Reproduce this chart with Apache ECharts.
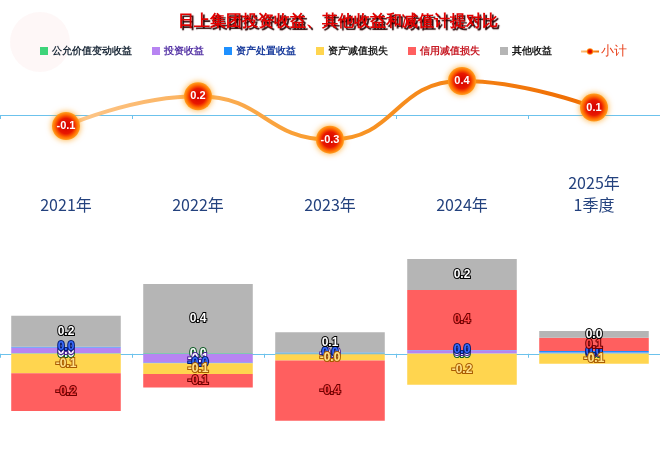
<!DOCTYPE html>
<html>
<head>
<meta charset="utf-8">
<script src="https://cdn.jsdelivr.net/npm/echarts@6/dist/echarts.min.js"></script>
<style>
  html, body { margin: 0; padding: 0; background: #fff; }
  #chart { width: 660px; height: 452px; }
</style>
</head>
<body>
<div id="chart"></div>
<script>
const categories = ['2021年', '2022年', '2023年', '2024年', '2025年\n1季度'];

// 单位：亿元（图上读数）
const fairValue = [0.004, 0.005, 0.003, 0.002, 0.003];     // 公允价值变动收益
const investIncome = [0.036, -0.058, -0.004, 0.02, 0.005];  // 投资收益
const assetDisposal = [0.005, -0.003, 0.005, 0.003, 0.01];  // 资产处置收益
const assetImpair = [-0.125, -0.069, -0.039, -0.2, -0.065]; // 资产减值损失
const creditImpair = [-0.245, -0.088, -0.39, 0.387, 0.086]; // 信用减值损失
const otherIncome = [0.2, 0.445, 0.13, 0.2, 0.043];         // 其他收益
const subtotal = [-0.13, 0.22, -0.29, 0.40, 0.087];         // 小计

const barDefs = [
  { name: '公允价值变动收益', data: fairValue, color: '#3ed47a', text: '#1d2b3a', lab: '#ffffff', border: '#0b5a22' },
  { name: '投资收益', data: investIncome, color: '#b784f2', text: '#5a3aa8', lab: '#ffffff', border: '#4a1e98' },
  { name: '资产处置收益', data: assetDisposal, color: '#1e90ff', text: '#1a3c9c', lab: '#3a6cff', border: '#001a70' },
  { name: '资产减值损失', data: assetImpair, color: '#ffd54f', text: '#1d1d1d', lab: '#ffe38a', border: '#a85a00' },
  { name: '信用减值损失', data: creditImpair, color: '#ff5f5f', text: '#c81e28', lab: '#ff4a4a', border: '#6e0000' },
  { name: '其他收益', data: otherIncome, color: '#b5b5b5', text: '#1d1d1d', lab: '#ffffff', border: '#000000' }
];

const chart = echarts.init(document.getElementById('chart'));

const axisLineColor = '#6cc2ec';

const barSeries = barDefs.map(d => ({
  name: d.name,
  type: 'bar',
  stack: 'total',
  xAxisIndex: 1,
  yAxisIndex: 1,
  barWidth: '83%',
  data: d.data,
  itemStyle: { color: d.color },
  label: {
    show: true,
    position: 'inside',
    formatter: p => p.value.toFixed(1),
    color: d.lab,
    fontSize: 12,
    fontWeight: 'bold',
    textBorderColor: d.border,
    textBorderWidth: 2
  }
}));

const option = {
  animation: false,
  title: {
    text: '日上集团投资收益、其他收益和减值计提对比',
    left: 173,
    top: 9,
    textStyle: {
      color: '#e00000',
      fontSize: 16,
      fontWeight: 'bold',
      textShadowColor: '#2a0000',
      textShadowBlur: 1,
      textShadowOffsetX: 2,
      textShadowOffsetY: 2
    }
  },
  graphic: [{
    type: 'circle',
    shape: { cx: 40, cy: 42, r: 30 },
    style: { fill: 'rgba(245,150,150,0.08)' },
    silent: true,
    z: -1
  }],
  legend: [{
    left: 35,
    top: 41,
    itemWidth: 8,
    itemHeight: 8,
    itemGap: 20,
    icon: 'rect',
    data: barDefs.map(d => ({ name: d.name, textStyle: { color: d.text } })),
    textStyle: { fontSize: 10, fontWeight: 'bold', padding: [0, 0, 0, -1] }
  }, {
    left: 575,
    top: 40,
    itemWidth: 18,
    itemHeight: 8,
    data: [{ name: '小计', textStyle: { color: '#e8401a' } }],
    textStyle: { fontSize: 13, padding: [0, 0, 0, -3] }
  }],
  grid: [
    { left: 0, right: 0, top: 72.5, height: 85 },
    { left: 0, right: 0, top: 222, height: 224.75 }
  ],
  xAxis: [{
    type: 'category',
    gridIndex: 0,
    data: categories,
    axisLine: { onZero: true, lineStyle: { color: axisLineColor } },
    axisTick: { show: true, length: 4, lineStyle: { color: axisLineColor } },
    axisLabel: { show: false }
  }, {
    type: 'category',
    gridIndex: 1,
    data: categories,
    axisLine: { onZero: true, lineStyle: { color: axisLineColor } },
    axisTick: { show: true, length: 4, lineStyle: { color: axisLineColor } },
    axisLabel: { show: false }
  }, {
    type: 'category',
    gridIndex: 1,
    position: 'top',
    data: categories,
    axisLine: { show: false, onZero: false },
    axisTick: { show: false },
    axisLabel: {
      show: true,
      margin: 6,
      color: '#24427e',
      fontSize: 16,
      lineHeight: 22,
      fontFamily: 'Noto Sans CJK SC'
    }
  }],
  yAxis: [{
    type: 'value',
    gridIndex: 0,
    min: -0.5,
    max: 0.5,
    show: false,
    splitLine: { show: false }
  }, {
    type: 'value',
    gridIndex: 1,
    min: -0.6,
    max: 0.85,
    show: false,
    splitLine: { show: false }
  }],
  series: barSeries.concat([{
    name: '小计',
    type: 'line',
    xAxisIndex: 0,
    yAxisIndex: 0,
    smooth: true,
    data: subtotal,
    symbol: 'circle',
    symbolSize: 28,
    z: 5,
    lineStyle: {
      width: 4,
      color: new echarts.graphic.LinearGradient(0, 0, 1, 0, [
        { offset: 0, color: '#fdc88e' },
        { offset: 0.5, color: '#f99a2a' },
        { offset: 1, color: '#ef6a00' }
      ])
    },
    itemStyle: {
      color: new echarts.graphic.RadialGradient(0.5, 0.5, 0.5, [
        { offset: 0, color: '#d40000' },
        { offset: 0.55, color: '#e81800' },
        { offset: 0.8, color: '#ff6a00' },
        { offset: 1, color: '#ffa020' }
      ]),
      shadowBlur: 6,
      shadowColor: 'rgba(255,150,0,0.8)'
    },
    label: {
      show: true,
      position: 'inside',
      formatter: p => p.value.toFixed(1),
      color: '#ffffff',
      fontSize: 11,
      fontWeight: 'bold'
    }
  }])
};

chart.setOption(option);
</script>
</body>
</html>
